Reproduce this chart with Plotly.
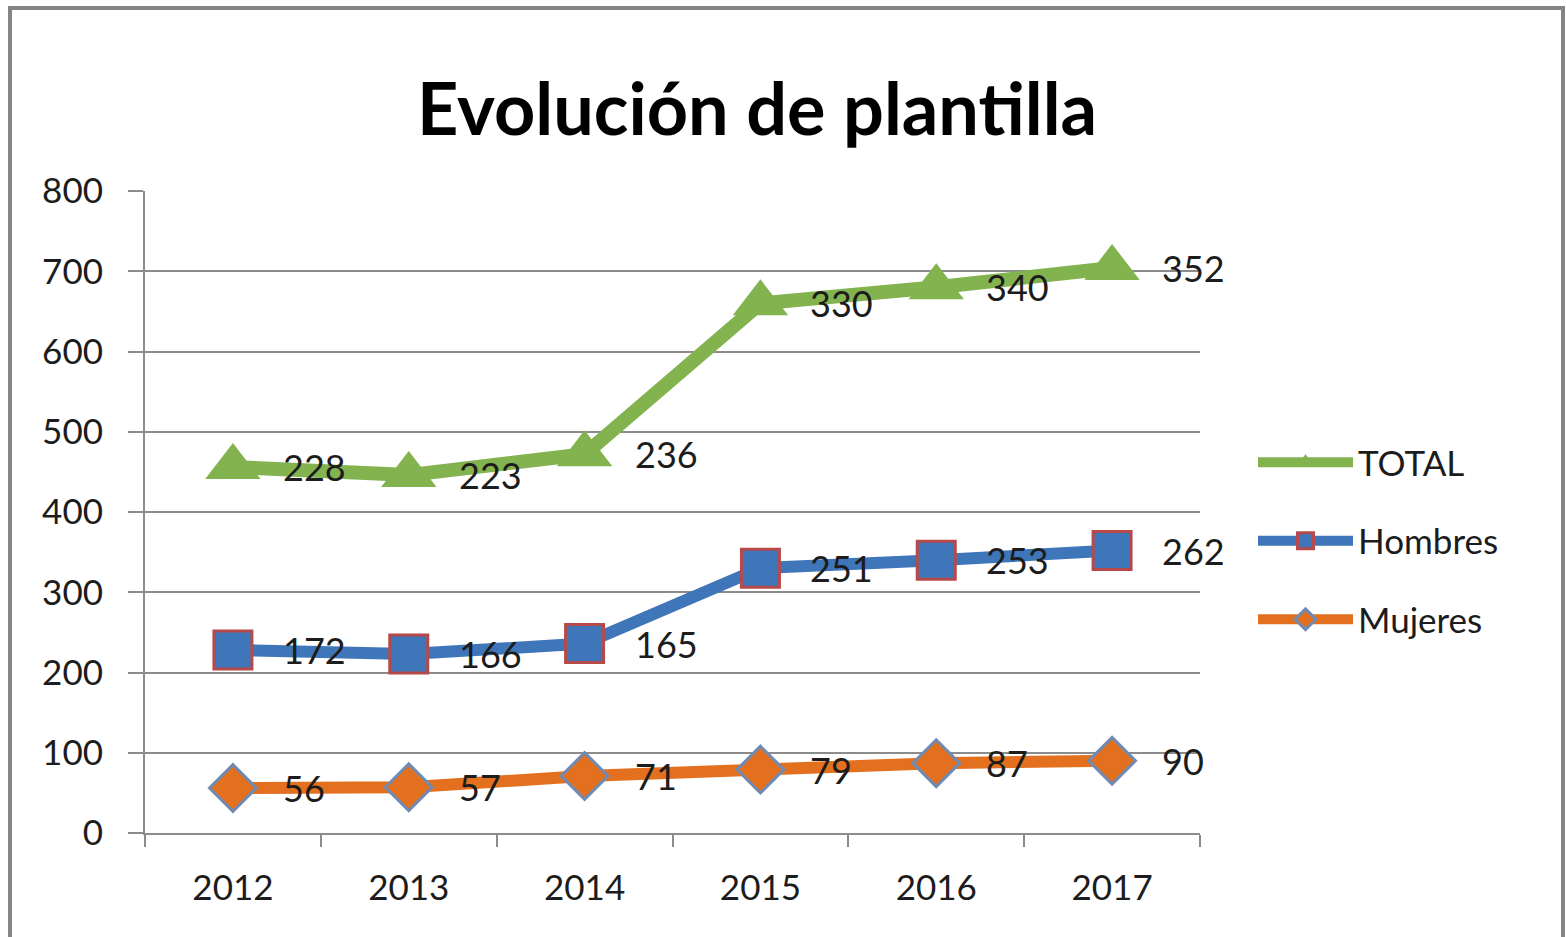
import numpy as np
import plotly.graph_objects as go

# Plantilla por año
years = ["2012", "2013", "2014", "2015", "2016", "2017"]
mujeres = [56, 57, 71, 79, 87, 90]
hombres = [172, 166, 165, 251, 253, 262]
total = [228, 223, 236, 330, 340, 352]

y_ticks = [0, 100, 200, 300, 400, 500, 600, 700, 800]

# Líneas apiladas: cada serie se dibuja sobre la suma de las anteriores
stack_muj = np.array(mujeres)
stack_hom = stack_muj + np.array(hombres)
stack_tot = stack_hom + np.array(total)

FONT = "Lato"
TXT = "#1c1c1c"
GRID = "#8c8c8c"

series = [
    dict(name="TOTAL", vals=total, ys=stack_tot, line="#83b34f",
         symbol="triangle-up", size=48, fill="#83b34f", edge="#83b34f", ew=0, lw=14),
    dict(name="Hombres", vals=hombres, ys=stack_hom, line="#3f76b9",
         symbol="square", size=38, fill="#3f76b9", edge="#b64a4a", ew=3, lw=12),
    dict(name="Mujeres", vals=mujeres, ys=stack_muj, line="#e3701f",
         symbol="diamond", size=36, fill="#e3701f", edge="#6f8ab3", ew=3, lw=12),
]

fig = go.Figure()
for i, s in enumerate(series):
    fig.add_trace(go.Scatter(
        x=years, y=s["ys"], name=s["name"], mode="lines+markers",
        legendgroup=s["name"], legendrank=i + 1,
        line=dict(color=s["line"], width=s["lw"]),
        marker=dict(symbol=s["symbol"], size=s["size"], color=s["fill"],
                    line=dict(color=s["edge"], width=s["ew"])),
        cliponaxis=False, hoverinfo="skip",
    ))
    # Etiquetas de valor a la derecha de cada punto (x por índice de categoría)
    for k, (yv, v) in enumerate(zip(s["ys"], s["vals"])):
        fig.add_annotation(x=k, y=float(yv), text=str(v), showarrow=False,
                           xanchor="left", yanchor="middle", xshift=48,
                           font=dict(family=FONT, size=36, color=TXT))

# Marco gris del gráfico (abierto por abajo)
fig.add_shape(type="rect", xref="paper", yref="paper",
              x0=(10 - 145) / 1055, x1=(1563 - 145) / 1055,
              y0=(833 - 960) / 642, y1=(833 - 8) / 642,
              line=dict(color="#858585", width=4), fillcolor="rgba(0,0,0,0)",
              layer="below")

fig.update_layout(
    width=1566, height=937,
    margin=dict(l=145, r=366, t=191, b=104),
    paper_bgcolor="white", plot_bgcolor="white",
    font=dict(family=FONT, color=TXT),
    title=dict(text="<b>Evolución de plantilla</b>", xref="container", yref="container",
               x=757 / 1566, y=1 - 110 / 937, xanchor="center", yanchor="middle",
               font=dict(family=FONT, size=72, color="#000000")),
    showlegend=True,
    legend=dict(x=(1253 - 145) / 1055, y=(833 - 433) / 642, xanchor="left", yanchor="top",
                font=dict(family=FONT, size=35, color=TXT),
                traceorder="grouped", tracegroupgap=30, itemwidth=95,
                bgcolor="rgba(0,0,0,0)"),
    xaxis=dict(type="category", range=[-0.5, 5.5], showgrid=False,
               showline=True, linecolor=GRID, linewidth=2,
               ticks="outside", tickson="boundaries", ticklen=12, tickwidth=2,
               tickcolor=GRID, tickfont=dict(family=FONT, size=35, color=TXT),
               ticklabelstandoff=23, fixedrange=True),
    yaxis=dict(range=[0, 800], tickvals=y_ticks, showgrid=True, gridcolor=GRID,
               gridwidth=2, zeroline=False, showline=True, linecolor=GRID,
               linewidth=2, ticks="outside", ticklen=15, tickwidth=2, tickcolor=GRID,
               tickfont=dict(family=FONT, size=35, color=TXT),
               ticklabelstandoff=18, fixedrange=True),
)

fig.write_html("out.html")
